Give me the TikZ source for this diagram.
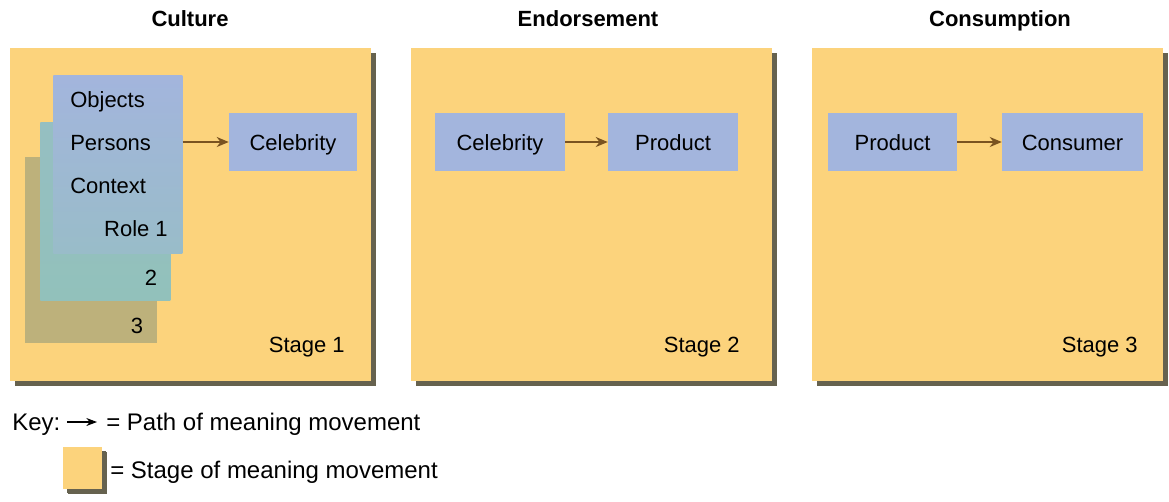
\documentclass[tikz,border=0pt]{standalone}
\usepackage{fontspec}
\setmainfont{Liberation Sans}
\usetikzlibrary{arrows.meta,positioning,shadows}

\definecolor{stagefill}{HTML}{FCD37C}
\definecolor{stageshadow}{HTML}{66624F}
\definecolor{itemfill}{HTML}{A3B5DD}
\definecolor{rolefill}{HTML}{92C1BB}
\definecolor{thirdfill}{HTML}{BDB17B}
\definecolor{pathcol}{HTML}{7A5320}

\begin{document}
\begin{tikzpicture}
[
    x=0.75pt, y=-0.75pt,
    every node/.style={font=\fontsize{16.5}{20}\selectfont, inner sep=0pt},
    heading/.style={anchor=base, font=\bfseries\fontsize{16.5}{20}\selectfont},
    label/.style={anchor=base west},
    stagebox/.style={fill=stagefill, anchor=north west, minimum width=270.75pt, minimum height=249.75pt,
        drop shadow={shadow xshift=3.75pt, shadow yshift=-3.75pt, fill=stageshadow, opacity=1}},
    sheet/.style={anchor=north west, minimum width=97.5pt, minimum height=133.5pt},
    itembox/.style={fill=itemfill, minimum width=97.5pt, minimum height=43.5pt, text height=12pt, text depth=0pt},
    keytext/.style={anchor=base west, font=\fontsize{18}{22}\selectfont},
    meaning/.style={draw=pathcol, line width=1.5pt, -{Stealth[length=9pt, width=7.5pt, fill=black!80!pathcol]}},
    keyarrow/.style={draw=black, line width=0.8pt, -{Stealth[length=8pt, width=6pt]}}
]
    \useasboundingbox (0,0) rectangle (1169,501);

    \node[heading] (culture) at (190,26) {Culture};
    \node[heading] (endorse) at (588,26) {Endorsement};
    \node[heading] (consume) at (1000,26) {Consumption};

    \node[stagebox] (stageA) at (10,48) {};
    \node[stagebox] (stageB) at (411,48) {};
    \node[stagebox, minimum width=263.25pt] (stageC) at (812,48) {};

    \begin{scope}
        \node[sheet, fill=thirdfill, minimum width=99pt, minimum height=139.5pt] (roleC) at (25,157) {};
        \node[sheet, top color=rolefill!80!itemfill, bottom color=rolefill] (roleB) at (40,122) {};
        \node[sheet, top color=itemfill, bottom color=rolefill!60!itemfill, minimum width=96.75pt] (roleA) at (53,75) {};

        \node[label] (objects) at (70,107) {Objects};
        \node[label] (persons) at (70,150) {Persons};
        \node[label] (context) at (70,193) {Context};
        \node[anchor=base east] (roleOne) at (168,236) {Role 1};
        \node[anchor=base] (roleTwo) at (151,285) {2};
        \node[anchor=base] (roleThree) at (137,333) {3};

        \node[itembox, minimum width=96pt] (celebA) at (293,142) {Celebrity};
        \draw[meaning] (roleA.east |- celebA) -- (celebA);
    \end{scope}

    \node[itembox] (celebB) at (500,142) {Celebrity};
    \node[itembox] (prodB) at (673,142) {Product};
    \draw[meaning] (celebB) -- (prodB);

    \node[itembox, minimum width=96.75pt] (prodC) at (892.5,142) {Product};
    \node[itembox, minimum width=105.75pt] (consC) at (1072.5,142) {Consumer};
    \draw[meaning] (prodC) -- (consC);

    \node[anchor=base east] (stageOne) at (345,352) {Stage 1};
    \node[anchor=base east] (stageTwo) at (740,352) {Stage 2};
    \node[anchor=base east] (stageThree) at (1138,352) {Stage 3};

    \node[keytext] (key) at (12,430) {Key:};
    \coordinate (keyStart) at (67,422);
    \coordinate (keyEnd) at (97,422);
    \draw[keyarrow] (keyStart) -- (keyEnd);
    \node[keytext] (keyPath) at (106,430) {= Path of meaning movement};

    \node[stagebox, minimum width=29.25pt, minimum height=31.5pt,
        drop shadow={shadow xshift=3pt, shadow yshift=-3pt, fill=stageshadow, opacity=1}] (keySwatch) at (63,447) {};
    \node[keytext] (keyStage) at (110,478) {= Stage of meaning movement};
\end{tikzpicture}
\end{document}
